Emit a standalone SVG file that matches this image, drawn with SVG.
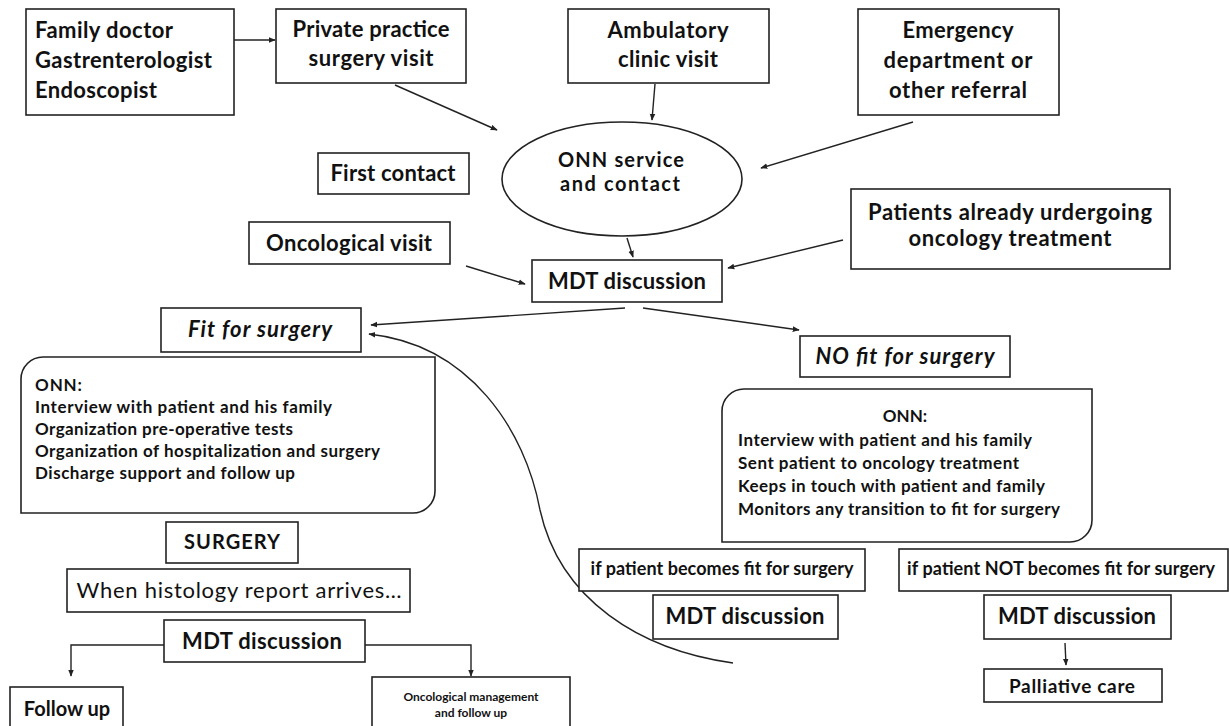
<svg xmlns="http://www.w3.org/2000/svg" width="1229" height="726" viewBox="0 0 1229 726">
<style>
.b{fill:#fff;stroke:#222;stroke-width:1.6}
.t{font-family:Lato,"Liberation Sans",sans-serif;font-weight:bold;fill:#111}
.r{font-family:Lato,"Liberation Sans",sans-serif;font-weight:normal;fill:#111}
.c{text-anchor:middle}
.i{font-style:italic}
.ln{fill:none;stroke:#222;stroke-width:1.4}
</style>
<defs>
<marker id="ah" viewBox="0 0 10 10" refX="9" refY="5" markerWidth="7" markerHeight="7" markerUnits="userSpaceOnUse" orient="auto">
<path d="M0,1 L10,5 L0,9 z" fill="#222"/>
</marker>
</defs>
<rect width="1229" height="726" fill="#fff"/>

<g id="connectors" class="ln">
<path d="M234,40 H275" marker-end="url(#ah)"/>
<path d="M395,85 L497,130" marker-end="url(#ah)"/>
<path d="M655,84 L652,120" marker-end="url(#ah)"/>
<path d="M913,122 L761,168" marker-end="url(#ah)"/>
<path d="M627,238 L633,257" marker-end="url(#ah)"/>
<path d="M466,266 L525,284" marker-end="url(#ah)"/>
<path d="M843,240 L728,268" marker-end="url(#ah)"/>
<path d="M625,308 L371,325" marker-end="url(#ah)"/>
<path d="M643,308 L799,330" marker-end="url(#ah)"/>
<path d="M733,663 C640,650 560,600 540,510 C525,430 470,345 369,334" marker-end="url(#ah)"/>
<path d="M164,645 H71 V676" marker-end="url(#ah)"/>
<path d="M365,645 H471 V676" marker-end="url(#ah)"/>
<path d="M1065,643 L1066,665" marker-end="url(#ah)"/>
</g>

<g id="n-family">
<rect class="b" x="26" y="9" width="208" height="106"/>
<text class="t" x="35" y="38" font-size="22" textLength="138">Family doctor</text>
<text class="t" x="35" y="68" font-size="22" textLength="177">Gastrenterologist</text>
<text class="t" x="35" y="98" font-size="22" textLength="122">Endoscopist</text>
</g>
<g id="n-private">
<rect class="b" x="276" y="9" width="190" height="74"/>
<text class="t c" x="371" y="37" font-size="22" textLength="157">Private practice</text>
<text class="t c" x="371" y="66" font-size="22" textLength="125">surgery visit</text>
</g>
<g id="n-ambulatory">
<rect class="b" x="568" y="9" width="201" height="74"/>
<text class="t c" x="668" y="38" font-size="22" textLength="121">Ambulatory</text>
<text class="t c" x="668" y="67" font-size="22" textLength="100">clinic visit</text>
</g>
<g id="n-emergency">
<rect class="b" x="858" y="9" width="201" height="106"/>
<text class="t c" x="958" y="38" font-size="22" textLength="111">Emergency</text>
<text class="t c" x="958" y="68" font-size="22" textLength="149">department or</text>
<text class="t c" x="958" y="98" font-size="22" textLength="138">other referral</text>
</g>
<g id="n-onn-service">
<ellipse class="b" cx="622" cy="179" rx="120" ry="57"/>
<text class="t c" x="621" y="167" font-size="20" textLength="126">ONN service</text>
<text class="t c" x="620" y="191" font-size="20" textLength="120">and contact</text>
</g>
<g id="n-first-contact">
<rect class="b" x="318" y="153" width="151" height="41"/>
<text class="t c" x="393" y="181" font-size="22" textLength="125">First contact</text>
</g>
<g id="n-oncological-visit">
<rect class="b" x="249" y="222" width="201" height="42"/>
<text class="t c" x="349" y="251" font-size="22" textLength="166">Oncological visit</text>
</g>
<g id="n-mdt-top">
<rect class="b" x="532" y="260" width="190" height="42"/>
<text class="t c" x="627" y="289" font-size="22" textLength="158">MDT discussion</text>
</g>
<g id="n-patients">
<rect class="b" x="851" y="189" width="319" height="80"/>
<text class="t c" x="1010" y="220" font-size="22" textLength="284">Patients already urdergoing</text>
<text class="t c" x="1010" y="246" font-size="22" textLength="203">oncology treatment</text>
</g>
<g id="n-fit">
<rect class="b" x="161" y="308" width="200" height="44"/>
<text class="t c i" x="260" y="337" font-size="22" textLength="144">Fit for surgery</text>
</g>
<g id="n-nofit">
<rect class="b" x="800" y="336" width="210" height="41"/>
<text class="t c i" x="905" y="364" font-size="22" textLength="179">NO fit for surgery</text>
</g>
<g id="n-onn-left">
<path class="b" d="M21,379 A22,22 0 0 1 43,357 H435 V491 A22,22 0 0 1 413,513 H21 Z"/>
<text class="t" x="35" y="391" font-size="17" textLength="47">ONN:</text>
<text class="t" x="35" y="413" font-size="17" textLength="297">Interview with patient and his family</text>
<text class="t" x="35" y="435" font-size="17" textLength="258">Organization pre-operative tests</text>
<text class="t" x="35" y="457" font-size="17" textLength="345">Organization of hospitalization and surgery</text>
<text class="t" x="35" y="479" font-size="17" textLength="260">Discharge support and follow up</text>
</g>
<g id="n-onn-right">
<path class="b" d="M722,411 A22,22 0 0 1 744,389 H1092 V520 A22,22 0 0 1 1070,542 H722 Z"/>
<text class="t c" x="905" y="422" font-size="17">ONN:</text>
<text class="t" x="738" y="446" font-size="17" textLength="294">Interview with patient and his family</text>
<text class="t" x="738" y="469" font-size="17" textLength="281">Sent patient to oncology treatment</text>
<text class="t" x="738" y="492" font-size="17" textLength="307">Keeps in touch with patient and family</text>
<text class="t" x="738" y="515" font-size="17" textLength="322">Monitors any transition to fit for surgery</text>
</g>
<g id="n-surgery">
<rect class="b" x="166" y="522" width="132" height="41"/>
<text class="t c" x="232" y="549" font-size="20" textLength="96">SURGERY</text>
</g>
<g id="n-histology">
<rect class="b" x="67" y="569" width="343" height="43"/>
<text class="r c" x="239" y="598" font-size="22" textLength="325">When histology report arrives…</text>
</g>
<g id="n-mdt-bottom-left">
<rect class="b" x="164" y="620" width="201" height="42"/>
<text class="t c" x="262" y="649" font-size="22" textLength="160">MDT discussion</text>
</g>
<g id="n-follow-up">
<rect class="b" x="10" y="687" width="113" height="45"/>
<text class="t c" x="67" y="716" font-size="20">Follow up</text>
</g>
<g id="n-onc-management">
<rect class="b" x="372" y="677" width="198" height="55"/>
<text class="t c" x="471" y="701" font-size="12">Oncological management</text>
<text class="t c" x="471" y="717" font-size="12">and follow up</text>
</g>
<g id="n-if-fit">
<rect class="b" x="579" y="549" width="286" height="42"/>
<text class="t c" x="722" y="575" font-size="18" textLength="263">if patient becomes fit for surgery</text>
</g>
<g id="n-mdt-mid">
<rect class="b" x="653" y="595" width="185" height="44"/>
<text class="t c" x="745" y="624" font-size="22" textLength="159">MDT discussion</text>
</g>
<g id="n-if-not-fit">
<rect class="b" x="899" y="549" width="329" height="42"/>
<text class="t c" x="1061" y="575" font-size="18" textLength="308">if patient NOT becomes fit for surgery</text>
</g>
<g id="n-mdt-right">
<rect class="b" x="984" y="595" width="187" height="44"/>
<text class="t c" x="1077" y="624" font-size="22" textLength="158">MDT discussion</text>
</g>
<g id="n-palliative">
<rect class="b" x="984" y="669" width="178" height="33"/>
<text class="t c" x="1072" y="693" font-size="19" textLength="126">Palliative care</text>
</g>
</svg>
